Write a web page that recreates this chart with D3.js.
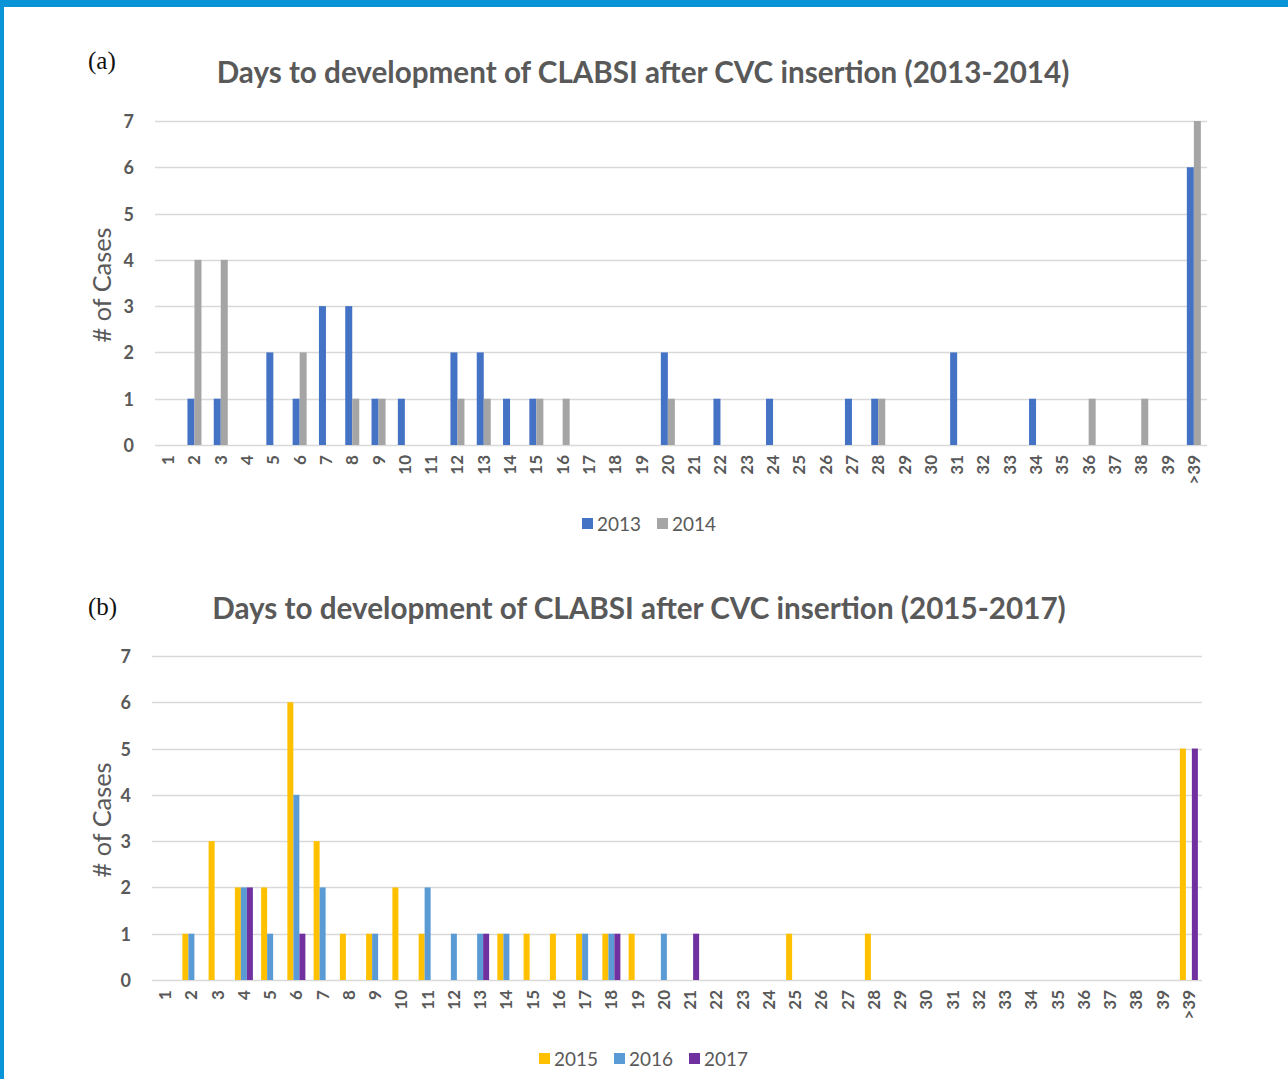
<!DOCTYPE html>
<html>
<head>
<meta charset="utf-8">
<script src="https://cdn.jsdelivr.net/npm/d3@7/dist/d3.min.js"></script>
<style>
  html, body { margin: 0; padding: 0; background: #ffffff; }
  svg { display: block; }
</style>
</head>
<body>
<svg id="fig" width="1288" height="1079"></svg>
<script>
// Day-of-onset categories shared by both panels
const days = ["1","2","3","4","5","6","7","8","9","10","11","12","13","14","15","16","17","18","19","20",
              "21","22","23","24","25","26","27","28","29","30","31","32","33","34","35","36","37","38","39",">39"];
const yTicks = [0, 1, 2, 3, 4, 5, 6, 7];

// Panel (a): cases per day, 2013 and 2014
const cases2013 = [0,1,1,0,2,1,3,3,1,1,0,2,2,1,1,0,0,0,0,2,0,1,0,1,0,0,1,1,0,0,2,0,0,1,0,0,0,0,0,6];
const cases2014 = [0,4,4,0,0,2,0,1,1,0,0,1,1,0,1,1,0,0,0,1,0,0,0,0,0,0,0,1,0,0,0,0,0,0,0,1,0,1,0,7];

// Panel (b): cases per day, 2015, 2016 and 2017
const cases2015 = [0,1,3,2,2,6,3,1,1,2,1,0,0,1,1,1,1,1,1,0,0,0,0,0,1,0,0,1,0,0,0,0,0,0,0,0,0,0,0,5];
const cases2016 = [0,1,0,2,1,4,2,0,1,0,2,1,1,1,0,0,1,1,0,1,0,0,0,0,0,0,0,0,0,0,0,0,0,0,0,0,0,0,0,0];
const cases2017 = [0,0,0,2,0,1,0,0,0,0,0,0,1,0,0,0,0,1,0,0,1,0,0,0,0,0,0,0,0,0,0,0,0,0,0,0,0,0,0,5];

const svg = d3.select("#fig");
const TEXT = "#595959";
const GRID = "#d9d9d9";

// Page frame: blue band along the top and a thin rule on the left
svg.append("rect").attr("x", 0).attr("y", 0).attr("width", 1288).attr("height", 7).attr("fill", "#0a94d8");
svg.append("rect").attr("x", 0).attr("y", 0).attr("width", 4).attr("height", 1079).attr("fill", "#0a94d8");

// Shrink/grow a text node's font size so its rendered width equals target
function fitWidth(sel, target) {
  const node = sel.node();
  const size = parseFloat(sel.attr("font-size"));
  const w = node.getComputedTextLength();
  if (w > 0) sel.attr("font-size", (size * target / w).toFixed(2));
}

function drawPanel(cfg) {
  const g = svg.append("g");

  const x = d3.scaleBand()
    .domain(days)
    .range([cfg.left, cfg.right])
    .paddingInner(cfg.padInner)
    .paddingOuter(cfg.padInner / 2);

  const xs = d3.scaleBand()
    .domain(cfg.series.map(s => s.name))
    .range([0, x.bandwidth()]);

  const y = d3.scaleLinear().domain([0, 7]).range([cfg.base, cfg.top]);

  // Horizontal gridlines (the 0 line doubles as the category axis)
  g.append("g")
    .selectAll("line")
    .data(yTicks)
    .join("line")
    .attr("x1", cfg.left).attr("x2", cfg.right)
    .attr("y1", d => Math.round(y(d)) + 0.5).attr("y2", d => Math.round(y(d)) + 0.5)
    .attr("stroke", GRID).attr("stroke-width", 1.3);

  // Value axis labels
  const yAxis = d3.axisLeft(y).tickValues(yTicks).tickSize(0).tickPadding(0).tickFormat(d3.format("d"));
  const ya = g.append("g").attr("transform", `translate(${cfg.left - 21},0)`).call(yAxis);
  ya.select(".domain").remove();
  ya.selectAll("text")
    .attr("font-family", "Lato, 'Open Sans', sans-serif")
    .attr("font-weight", "bold")
    .attr("font-size", 18)
    .attr("fill", TEXT)
    .attr("dy", "0.36em");

  // Category axis labels, rotated to read bottom-to-top
  const xAxis = d3.axisBottom(x).tickSize(0).tickPadding(0);
  const xa = g.append("g").attr("transform", `translate(0,${cfg.base})`).call(xAxis);
  xa.select(".domain").remove();
  xa.selectAll("text")
    .attr("font-family", "Lato, 'Open Sans', sans-serif")
    .attr("font-weight", "bold")
    .attr("font-size", 17)
    .attr("fill", TEXT)
    .attr("text-anchor", "end")
    .attr("dy", null)
    .attr("y", 0)
    .attr("transform", "translate(6,10) rotate(-90)");

  // Clustered bars
  cfg.series.forEach(s => {
    g.append("g")
      .selectAll("rect")
      .data(s.values.map((v, i) => ({ day: days[i], v })).filter(d => d.v > 0))
      .join("rect")
      .attr("x", d => x(d.day) + xs(s.name))
      .attr("width", xs.bandwidth())
      .attr("y", d => y(d.v))
      .attr("height", d => y(0) - y(d.v))
      .attr("fill", s.color);
  });

  // Chart title
  const t = g.append("text")
    .attr("x", cfg.titleX).attr("y", cfg.titleY)
    .attr("text-anchor", "middle")
    .attr("font-family", "Lato, 'Open Sans', sans-serif")
    .attr("font-weight", "bold")
    .attr("font-size", 26)
    .attr("fill", TEXT)
    .text(cfg.title);
  fitWidth(t, cfg.titleW);

  // Panel letter
  g.append("text")
    .attr("x", 88).attr("y", cfg.letterY)
    .attr("font-family", "'Liberation Serif', 'Times New Roman', serif")
    .attr("font-size", 25)
    .attr("fill", "#111")
    .text(cfg.letter);

  // Value axis title
  const yl = g.append("text")
    .attr("transform", `translate(111,${(cfg.top + cfg.base) / 2 + 2}) rotate(-90)`)
    .attr("text-anchor", "middle")
    .attr("font-family", "Lato, 'Open Sans', sans-serif")
    .attr("font-size", 24)
    .attr("fill", TEXT)
    .text("# of Cases");
  fitWidth(yl, 115);

  // Legend
  const lg = g.append("g").attr("transform", `translate(${cfg.legendX},${cfg.legendY})`);
  let cx = 0;
  cfg.series.forEach(s => {
    lg.append("rect").attr("x", cx).attr("y", -6).attr("width", 11).attr("height", 11).attr("fill", s.color);
    const tx = lg.append("text")
      .attr("x", cx + 15).attr("y", 7)
      .attr("font-family", "Lato, 'Open Sans', sans-serif")
      .attr("font-size", 18)
      .attr("fill", TEXT)
      .text(s.name);
    fitWidth(tx, 44);
    cx += 75;
  });
}

drawPanel({
  letter: "(a)", letterY: 69,
  title: "Days to development of CLABSI after CVC insertion (2013-2014)",
  titleX: 643, titleY: 83, titleW: 853,
  left: 155, right: 1207, top: 121, base: 445,
  padInner: 0.467,
  legendX: 582, legendY: 524,
  series: [
    { name: "2013", values: cases2013, color: "#4472c4" },
    { name: "2014", values: cases2014, color: "#a5a5a5" }
  ]
});

drawPanel({
  letter: "(b)", letterY: 615,
  title: "Days to development of CLABSI after CVC insertion (2015-2017)",
  titleX: 639, titleY: 619, titleW: 854,
  left: 152, right: 1202, top: 656, base: 980,
  padInner: 0.314,
  legendX: 539, legendY: 1059,
  series: [
    { name: "2015", values: cases2015, color: "#ffc000" },
    { name: "2016", values: cases2016, color: "#5b9bd5" },
    { name: "2017", values: cases2017, color: "#7030a0" }
  ]
});
</script>
</body>
</html>
